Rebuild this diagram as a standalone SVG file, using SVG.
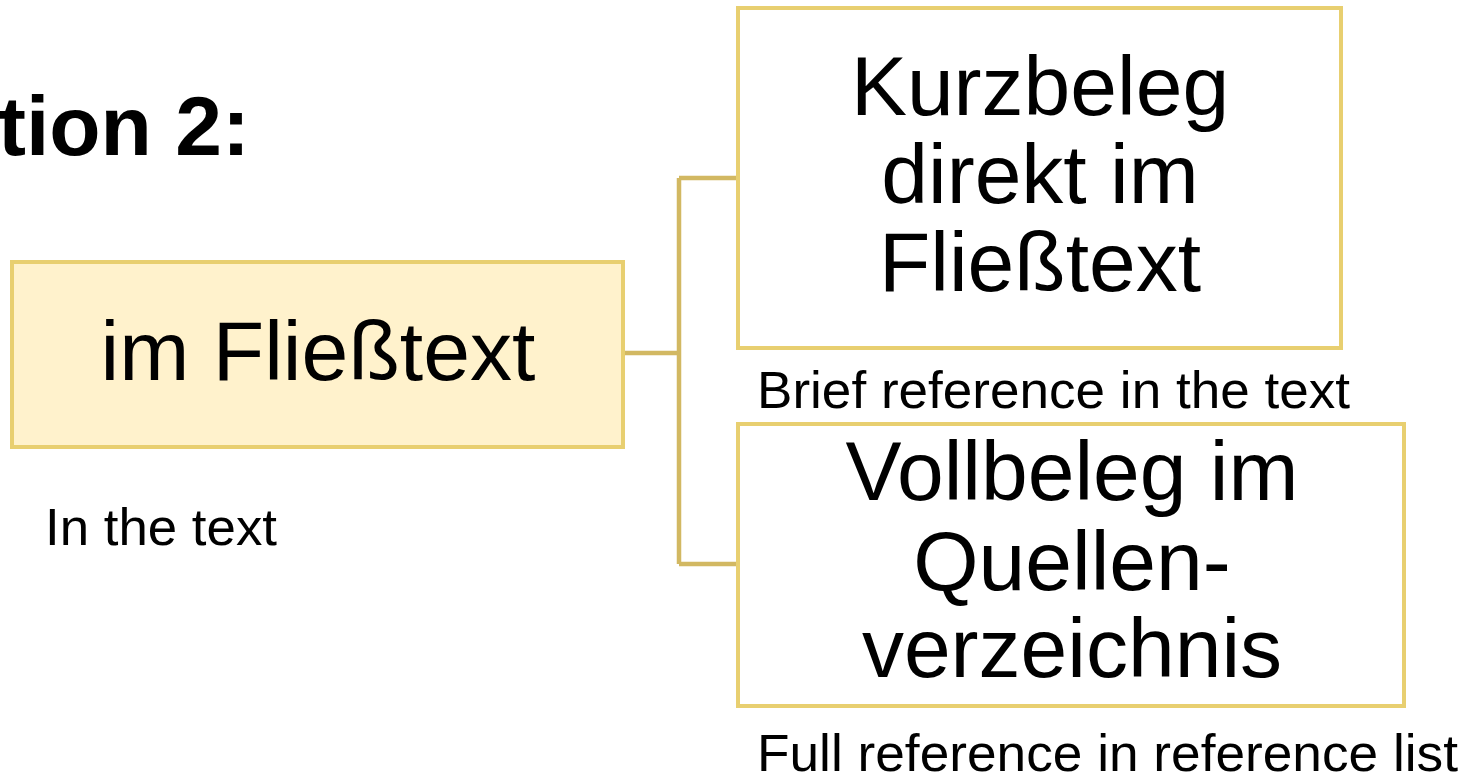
<svg xmlns="http://www.w3.org/2000/svg" width="1470" height="775" viewBox="0 0 1470 775">
<style>
.box{fill:#ffffff;stroke:#E8CF70;stroke-width:4}
.root{fill:#FFF2CC;stroke:#E8CF70;stroke-width:4}
.big{font-family:"Liberation Sans",Arial,sans-serif;font-size:84px;fill:#000;text-anchor:middle}
.small{font-family:"Liberation Sans",Arial,sans-serif;font-size:52px;fill:#000}
.title{font-family:"Liberation Sans",Arial,sans-serif;font-size:84px;font-weight:bold;fill:#000}
.conn{fill:none;stroke:#D2B862;stroke-width:4.5}
</style>
<rect width="1470" height="775" fill="#ffffff"/>
<text class="title" x="-2" y="155">tion 2:</text>
<g id="connectors">
<path class="conn" d="M623 353 H679 M679 178 V564 M679 178 H738 M679 564 H738"/>
</g>
<g id="node-root">
<rect class="root" x="12" y="262" width="611" height="185"/>
<text class="big" x="318" y="380" textLength="435" lengthAdjust="spacingAndGlyphs">im Fließtext</text>
</g>
<text class="small" x="45" y="545" textLength="232" lengthAdjust="spacingAndGlyphs">In the text</text>
<g id="node-kurz">
<rect class="box" x="738" y="8" width="603" height="340"/>
<text class="big" x="1040" y="115">Kurzbeleg</text>
<text class="big" x="1040" y="203">direkt im</text>
<text class="big" x="1040" y="291">Fließtext</text>
</g>
<text class="small" x="757" y="408" textLength="593" lengthAdjust="spacingAndGlyphs">Brief reference in the text</text>
<g id="node-voll">
<rect class="box" x="738" y="424" width="666" height="282"/>
<text class="big" x="1072" y="500">Vollbeleg im</text>
<text class="big" x="1072" y="590">Quellen-</text>
<text class="big" x="1072" y="677">verzeichnis</text>
</g>
<text class="small" x="757" y="771" textLength="701" lengthAdjust="spacingAndGlyphs">Full reference in reference list</text>
</svg>
